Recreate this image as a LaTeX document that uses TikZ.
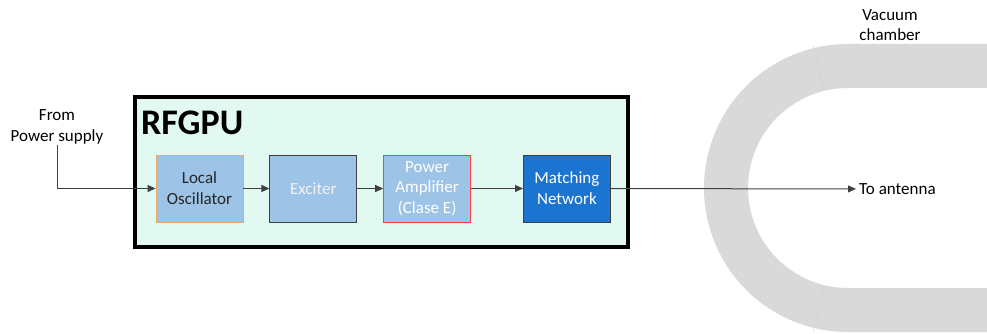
\documentclass[tikz,border=0pt]{standalone}
\usepackage{fontspec}
\setmainfont{Carlito}
\usetikzlibrary{positioning,arrows.meta}
\definecolor{mint}{HTML}{E2F9F1}
\definecolor{lightblue}{HTML}{9DC3E6}
\definecolor{deepblue}{HTML}{1B74D0}
\definecolor{chamber}{HTML}{D9D9D9}
\definecolor{seam}{HTML}{C9D3E0}
\definecolor{oscborder}{HTML}{E8A868}
\tikzset{
  mainbox/.style={rectangle, draw=black, line width=3.5pt, fill=mint, minimum width=493pt, minimum height=150pt, inner sep=0pt},
  blockbox/.style={rectangle, draw=black!75, line width=0.8pt, fill=lightblue, minimum width=87pt, minimum height=67pt, inner sep=2pt, align=center, font=\fontsize{17}{20.7}\selectfont},
  title/.style={font=\fontsize{36}{40}\selectfont\bfseries, inner sep=0pt},
  lbl/.style={font=\fontsize{17}{20.7}\selectfont, align=center, inner sep=1pt},
  sig/.style={draw=black!75, line width=1pt, -{Triangle[length=8pt,width=7pt]}}
}
\begin{document}
\begin{tikzpicture}[x=1pt, y=-1pt, node distance=26pt]
  \useasboundingbox (0,0) rectangle (987,334);

  % vacuum chamber
  \fill[chamber] (987,44) -- (848,44) arc[start angle=270, end angle=90, radius=144]
    -- (987,332) -- (987,288) -- (848,288) arc[start angle=90, end angle=270, radius=100]
    -- (987,88) -- cycle;
  \draw[seam, line width=0.5pt] (813,45) -- (824,88);
  \draw[seam, line width=0.5pt] (813,332) -- (824,289);

  % RF generator
  \node[mainbox] (rfgpu) at (381.5,172) {};
  \node[title, anchor=base west] (rfgputxt) at (141,135) {RFGPU};

  \node[blockbox, draw=oscborder, text=black!85] (osc) at (199.5,188.5) {Local\\Oscillator};
  \node[blockbox, text=white!95!black, right=of osc] (exc) {Exciter};
  \node[blockbox, draw=red!75, text=white, right=of exc] (pa) {Power\\Amplifier\\(Clase E)};
  \node[blockbox, fill=deepblue, text=white, right=52pt of pa] (mn) {Matching\\Network};

  % labels
  \node[lbl] (src) at (57,127) {From\\Power supply};
  \node[lbl, anchor=west, inner sep=3pt] (ant) at (856,189) {To antenna};
  \node[lbl] (vac) at (890,25) {Vacuum\\chamber};

  % signal path
  \draw[sig] (src.south) |- (osc.west);
  \draw[sig] (osc) -- (exc);
  \draw[sig] (exc) -- (pa);
  \draw[sig] (pa) -- (mn);
  \draw[sig] (mn) -- (ant);
\end{tikzpicture}
\end{document}
